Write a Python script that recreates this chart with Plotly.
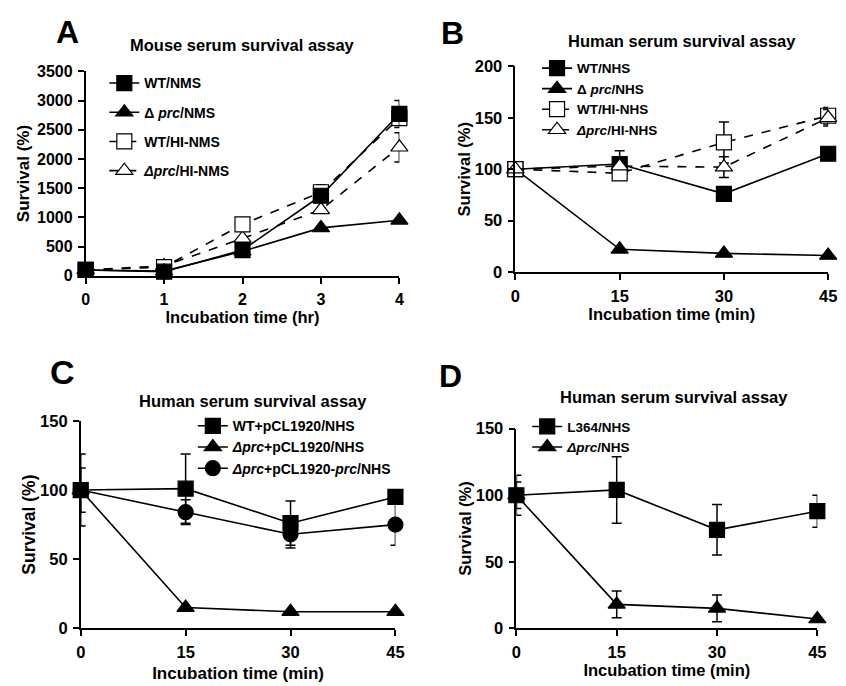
import plotly.graph_objects as go

# ---------------- data ----------------
time_hr = [0, 1, 2, 3, 4]
time_min = [0, 15, 30, 45]

# Panel A (mouse serum)
a_wt_nms = [100, 70, 440, 1370, 2770]
a_wt_nms_err = [0, 0, 0, 0, 230]
a_prc_nms = [100, 80, 420, 820, 950]
a_prc_nms_err = [0, 0, 0, 0, 0]
a_wt_hi = [100, 150, 880, 1430, 2700]
a_wt_hi_err = [0, 0, 0, 130, 0]
a_prc_hi = [100, 170, 640, 1130, 2200]
a_prc_hi_err = [0, 0, 0, 0, 250]

# Panel B (human serum)
b_wt_nhs = [100, 105, 76, 115]
b_wt_nhs_err = [0, 13, 0, 0]
b_prc_nhs = [100, 22, 18, 16]
b_prc_nhs_err = [0, 0, 0, 0]
b_wt_hi = [100, 96, 126, 152]
b_wt_hi_err = [0, 0, 20, 8]
b_prc_hi = [100, 103, 102, 150]
b_prc_hi_err = [0, 0, 10, 8]

# Panel C (complementation)
c_wt = [100, 101, 76, 95]
c_wt_err = [26, 25, 16, 5]
c_prc = [100, 15, 12, 12]
c_prc_err = [0, 0, 0, 0]
c_comp = [100, 84, 68, 75]
c_comp_err = [16, 9, 10, 15]

# Panel D (L364)
d_l364 = [100, 104, 74, 88]
d_l364_err = [15, 25, 19, 12]
d_prc = [100, 18, 15, 7]
d_prc_err = [10, 10, 10, 0]

titles = ["Mouse serum survival assay", "Human serum survival assay",
          "Human serum survival assay", "Human serum survival assay"]
letters = ["A", "B", "C", "D"]
xtitles = ["Incubation time (hr)", "Incubation time (min)",
           "Incubation time (min)", "Incubation time (min)"]
ytitle = "Survival (%)"

FONT = "Liberation Sans, Arial, sans-serif"
W, H = 846, 686


def px(x):
    return x / W


def py(y):
    return 1 - y / H


fig = go.Figure()


def add(x, y, err, name, xa, ya, legend, symbol, dash, rank, fill="black", size=15):
    fig.add_trace(go.Scatter(
        x=x, y=y, name=name, xaxis=xa, yaxis=ya, legend=legend,
        legendgroup=legend + str(rank), legendrank=rank,
        mode="lines+markers",
        line=dict(color="black", width=1.6, dash=dash),
        marker=dict(symbol=symbol, size=size, color=fill,
                    line=dict(color="black", width=1.2)),
        error_y=dict(type="data", array=err, visible=True, color="black",
                     thickness=1.5, width=5),
        cliponaxis=False,
    ))


# Panel A
add(time_hr, a_prc_hi, a_prc_hi_err, "<i>Δprc</i>/HI-NMS", "x", "y", "legend", "triangle-up", "dash", 4, "white")
add(time_hr, a_wt_hi, a_wt_hi_err, "WT/HI-NMS", "x", "y", "legend", "square", "dash", 3, "white")
add(time_hr, a_prc_nms, a_prc_nms_err, "Δ <i>prc</i>/NMS", "x", "y", "legend", "triangle-up", "solid", 2)
add(time_hr, a_wt_nms, a_wt_nms_err, "WT/NMS", "x", "y", "legend", "square", "solid", 1)

# Panel B
add(time_min, b_wt_nhs, b_wt_nhs_err, "WT/NHS", "x2", "y2", "legend2", "square", "solid", 1)
add(time_min, b_prc_nhs, b_prc_nhs_err, "Δ <i>prc</i>/NHS", "x2", "y2", "legend2", "triangle-up", "solid", 2)
add(time_min, b_wt_hi, b_wt_hi_err, "WT/HI-NHS", "x2", "y2", "legend2", "square", "dash", 3, "white")
add(time_min, b_prc_hi, b_prc_hi_err, "<i>Δprc</i>/HI-NHS", "x2", "y2", "legend2", "triangle-up", "dash", 4, "white")

# Panel C
add(time_min, c_comp, c_comp_err, "<i>Δprc</i>+pCL1920-<i>prc</i>/NHS", "x3", "y3", "legend3", "circle", "solid", 3)
add(time_min, c_prc, c_prc_err, "<i>Δprc</i>+pCL1920/NHS", "x3", "y3", "legend3", "triangle-up", "solid", 2)
add(time_min, c_wt, c_wt_err, "WT+pCL1920/NHS", "x3", "y3", "legend3", "square", "solid", 1)

# Panel D
add(time_min, d_prc, d_prc_err, "<i>Δprc</i>/NHS", "x4", "y4", "legend4", "triangle-up", "solid", 2)
add(time_min, d_l364, d_l364_err, "L364/NHS", "x4", "y4", "legend4", "square", "solid", 1)


def f(size):
    return dict(family=FONT, size=size, color="black", weight="bold")


axis_common = dict(showline=True, linecolor="black", linewidth=1.6,
                   ticks="outside", ticklen=6, tickwidth=1.6, tickcolor="black",
                   showgrid=False, zeroline=False, ticklabelstandoff=2)

# page-pixel domains: (x0, x1, ybottom, ytop)
doms = [(82, 401, 274, 64), (519, 837, 270, 59), (77, 397, 636, 423), (520, 826, 636, 431)]
xr = [[0, 4], [0, 45], [0, 45], [0, 45]]
yr = [[0, 3500], [0, 200], [0, 150], [0, 150]]
xt = [[0, 1, 2, 3, 4], [0, 15, 30, 45], [0, 15, 30, 45], [0, 15, 30, 45]]
yt = [[0, 500, 1000, 1500, 2000, 2500, 3000, 3500], [0, 50, 100, 150, 200],
      [0, 50, 100, 150], [0, 50, 100, 150]]
tick_sz = [16, 16.5, 16.5, 16.5]
xt_sz = [16.5, 16.5, 17, 16.5]
yt_sz = [17, 16.5, 17.5, 16.5]
x_stand = [1, 5, 7, 4]
y_stand = [3, 0, 0, 0]

lay = {}
for i in range(4):
    sfx = "" if i == 0 else str(i + 1)
    x0, x1, yb, ytp = doms[i]
    lay["xaxis" + sfx] = dict(axis_common, domain=[px(x0), px(x1)], range=xr[i],
                              tickvals=xt[i], anchor="y" + sfx, tickfont=f(tick_sz[i]),
                              title=dict(text=xtitles[i], standoff=x_stand[i], font=f(xt_sz[i])))
    lay["yaxis" + sfx] = dict(axis_common, domain=[py(yb), py(ytp)], range=yr[i],
                              tickvals=yt[i], anchor="x" + sfx, tickfont=f(tick_sz[i]),
                              title=dict(text=ytitle, standoff=y_stand[i], font=f(yt_sz[i])))

legend_common = dict(bgcolor="rgba(0,0,0,0)", itemwidth=30,
                     traceorder="grouped", xanchor="left", yanchor="top",
                     itemsizing="trace")
lay["legend"] = dict(legend_common, font=f(14), x=px(101), y=py(60), tracegroupgap=8)
lay["legend2"] = dict(legend_common, font=f(13.5), x=px(541), y=py(45), tracegroupgap=0)
lay["legend3"] = dict(legend_common, font=f(14), x=px(191), y=py(412), tracegroupgap=0)
lay["legend4"] = dict(legend_common, font=f(13.5), x=px(531), y=py(413), tracegroupgap=0)

ann = []
title_pos = [(241, 37), (688, 33), (252, 403), (680, 398)]
letter_pos = [(64, 24), (455, 25), (58, 373), (453, 377)]
letter_sz = [32, 32, 34, 32]
for i in range(4):
    ann.append(dict(text=titles[i], x=px(title_pos[i][0]), y=py(title_pos[i][1]),
                    xref="paper", yref="paper", showarrow=False, xanchor="center",
                    yanchor="middle", font=f(16.5)))
    ann.append(dict(text=letters[i], x=px(letter_pos[i][0]), y=py(letter_pos[i][1]),
                    xref="paper", yref="paper", showarrow=False, xanchor="center",
                    yanchor="middle", font=f(letter_sz[i])))

fig.update_layout(width=W, height=H, margin=dict(l=0, r=0, t=0, b=0),
                  plot_bgcolor="white", paper_bgcolor="white",
                  annotations=ann, showlegend=True, **lay)

fig.write_html("out.html", config={"displayModeBar": False},
               post_script="document.body.style.margin='0';document.body.style.overflow='hidden';")
